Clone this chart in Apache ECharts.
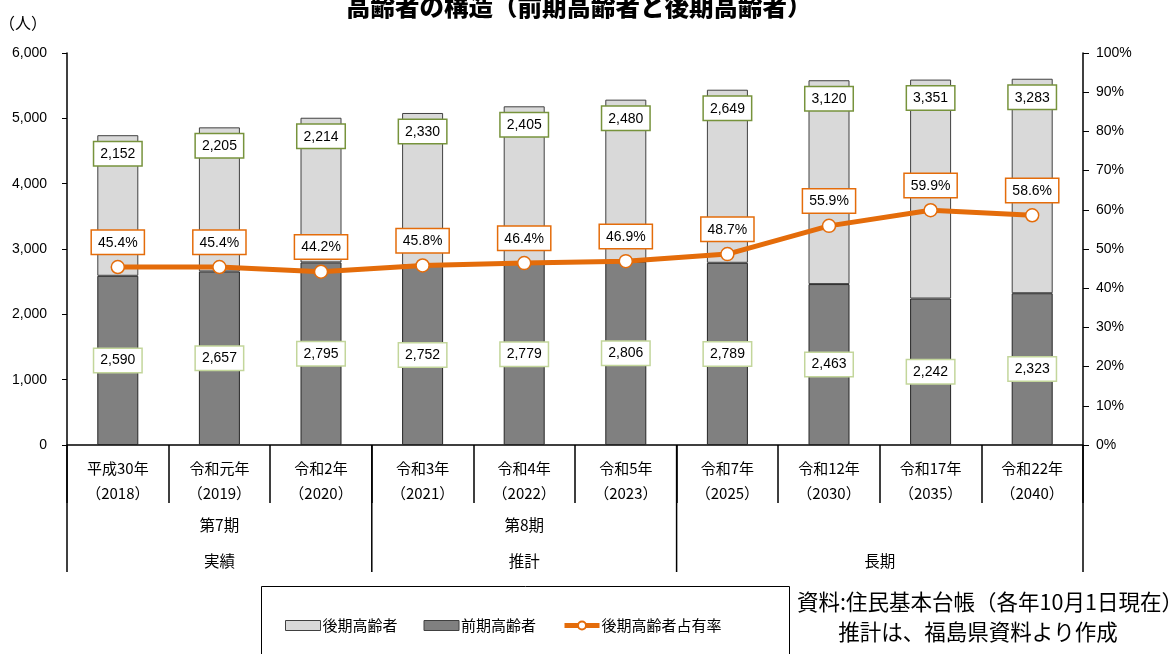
<!DOCTYPE html>
<html>
<head>
<meta charset="utf-8">
<script src="https://cdn.jsdelivr.net/npm/echarts@6/dist/echarts.min.js"></script>
<style>
  html, body { margin: 0; padding: 0; background: #fff; }
  #chart { width: 1176px; height: 654px; }
</style>
</head>
<body>
<div id="chart"></div>
<script>
// Fiscal years (Japanese era + western year)
const categories = [
  '平成30年\n（2018）', '令和元年\n（2019）', '令和2年\n（2020）',
  '令和3年\n（2021）', '令和4年\n（2022）', '令和5年\n（2023）',
  '令和7年\n（2025）', '令和12年\n（2030）', '令和17年\n（2035）', '令和22年\n（2040）'
];
// Late-stage elderly (75+), persons
const lateElderly = [2152, 2205, 2214, 2330, 2405, 2480, 2649, 3120, 3351, 3283];
// Early-stage elderly (65-74), persons
const earlyElderly = [2590, 2657, 2795, 2752, 2779, 2806, 2789, 2463, 2242, 2323];
// Share of late-stage elderly, %
const lateShare = [45.4, 45.4, 44.2, 45.8, 46.4, 46.9, 48.7, 55.9, 59.9, 58.6];

// Grouping rows under the category axis: [label, first index, last index]
const planPeriods = [['第7期', 0, 2], ['第8期', 3, 5]];
const dataKinds = [['実績', 0, 2], ['推計', 3, 5], ['長期', 6, 9]];

const leftTicks = [0, 1000, 2000, 3000, 4000, 5000, 6000];

const NUM_FONT = '"Liberation Sans", Arial, sans-serif';
const JP_FONT = '"Noto Sans CJK JP", "Noto Sans", sans-serif';

const fmt = v => v.toLocaleString('en-US');

const chart = echarts.init(document.getElementById('chart'));

const option = {
  animation: false,
  backgroundColor: '#ffffff',
  title: {
    text: '高齢者の構造（前期高齢者と後期高齢者）',
    left: 341,
    top: -11,
    textStyle: { fontFamily: JP_FONT, fontSize: 24.5, fontWeight: 900, color: '#000' }
  },
  grid: { left: 67, right: 93, top: 53, bottom: 209, containLabel: false, outerBoundsMode: 'none' },
  legend: {
    left: 280,
    top: 613,
    itemWidth: 35,
    itemHeight: 10,
    itemGap: 26,
    textStyle: { fontFamily: JP_FONT, fontSize: 15, color: '#000', padding: [0, 0, 0, -3] },
    data: [
      { name: '後期高齢者', icon: 'rect', itemStyle: { color: '#d9d9d9', borderColor: '#404040', borderWidth: 1 } },
      { name: '前期高齢者', icon: 'rect', itemStyle: { color: '#808080', borderColor: '#404040', borderWidth: 1 } },
      { name: '後期高齢者占有率', lineStyle: { width: 5 } }
    ]
  },
  xAxis: {
    type: 'category',
    data: categories,
    boundaryGap: true,
    axisLine: { lineStyle: { color: '#000', width: 1.5 } },
    axisTick: { show: true, length: 58, interval: 0, lineStyle: { color: '#000', width: 1.5 } },
    axisLabel: {
      interval: 0,
      margin: 11,
      fontFamily: JP_FONT,
      fontSize: 15,
      lineHeight: 25,
      color: '#000'
    }
  },
  yAxis: [
    {
      type: 'value',
      min: leftTicks[0],
      max: leftTicks[leftTicks.length - 1],
      interval: 1000,
      name: '（人）',
      nameLocation: 'end',
      nameGap: 22,
      nameTextStyle: { fontFamily: JP_FONT, fontSize: 16, color: '#000', align: 'right', padding: [0, 20, 0, 0] },
      axisLine: { show: true, lineStyle: { color: '#000', width: 1.5 } },
      axisTick: { show: true, length: 5, lineStyle: { color: '#000' } },
      splitLine: { show: false },
      axisLabel: {
        margin: 20,
        fontFamily: NUM_FONT,
        fontSize: 14,
        color: '#000',
        formatter: v => fmt(v)
      }
    },
    {
      type: 'value',
      min: 0,
      max: 100,
      interval: 10,
      position: 'right',
      axisLine: { show: true, lineStyle: { color: '#000', width: 1.5 } },
      axisTick: { show: true, length: 6, lineStyle: { color: '#000' } },
      splitLine: { show: false },
      axisLabel: {
        margin: 13,
        fontFamily: NUM_FONT,
        fontSize: 14,
        color: '#000',
        formatter: v => v + '%'
      }
    }
  ],
  series: [
    {
      name: '前期高齢者',
      type: 'bar',
      stack: 'elderly',
      barWidth: 41,
      data: earlyElderly,
      itemStyle: { color: '#808080', borderColor: '#262626', borderWidth: 1 },
      label: {
        show: true,
        position: 'inside',
        formatter: p => fmt(p.value),
        fontFamily: NUM_FONT,
        fontSize: 14,
        color: '#000',
        backgroundColor: '#ffffff',
        borderColor: '#c3d69b',
        borderWidth: 1.5,
        padding: [5, 6, 4, 6]
      }
    },
    {
      name: '後期高齢者',
      type: 'bar',
      stack: 'elderly',
      barWidth: 41,
      data: lateElderly,
      itemStyle: { color: '#d9d9d9', borderColor: '#404040', borderWidth: 1 },
      label: {
        show: true,
        position: 'insideTop',
        distance: 7,
        formatter: p => fmt(p.value),
        fontFamily: NUM_FONT,
        fontSize: 14,
        color: '#000',
        backgroundColor: '#ffffff',
        borderColor: '#77933c',
        borderWidth: 1.5,
        padding: [5, 6, 4, 6]
      }
    },
    {
      name: '後期高齢者占有率',
      type: 'line',
      yAxisIndex: 1,
      data: lateShare,
      symbol: 'circle',
      symbolSize: 13,
      lineStyle: { color: '#e46c0a', width: 5 },
      itemStyle: { color: '#ffffff', borderColor: '#e46c0a', borderWidth: 1.5 },
      z: 5,
      label: {
        show: true,
        position: 'top',
        distance: 6,
        formatter: p => p.value.toFixed(1) + '%',
        fontFamily: NUM_FONT,
        fontSize: 14,
        color: '#000',
        backgroundColor: '#ffffff',
        borderColor: '#e46c0a',
        borderWidth: 1.5,
        padding: [5, 6, 4, 6]
      }
    }
  ]
};

chart.setOption(option);

// Group separators and grouping labels below the category axis
function drawGroups() {
  const c0 = chart.convertToPixel({ xAxisIndex: 0 }, 0);
  const c1 = chart.convertToPixel({ xAxisIndex: 0 }, 1);
  const band = c1 - c0;
  const edge = i => c0 + (i - 0.5) * band;
  const axisY = chart.convertToPixel({ yAxisIndex: 0 }, 0);
  const bottomY = axisY + 127;
  const elements = [];

  const boundaries = new Set([0, categories.length]);
  dataKinds.forEach(g => { boundaries.add(g[1]); boundaries.add(g[2] + 1); });
  boundaries.forEach(b => {
    elements.push({
      type: 'line',
      shape: { x1: edge(b), y1: axisY, x2: edge(b), y2: bottomY },
      style: { stroke: '#000', lineWidth: 1.5 },
      silent: true
    });
  });

  const textStyle = { fontFamily: JP_FONT, fontSize: 15.5, fill: '#000', align: 'center', verticalAlign: 'middle' };
  planPeriods.forEach(g => {
    elements.push({
      type: 'text',
      x: (edge(g[1]) + edge(g[2] + 1)) / 2,
      y: axisY + 80,
      style: Object.assign({ text: g[0] }, textStyle),
      silent: true
    });
  });
  dataKinds.forEach(g => {
    elements.push({
      type: 'text',
      x: (edge(g[1]) + edge(g[2] + 1)) / 2,
      y: axisY + 116,
      style: Object.assign({ text: g[0] }, textStyle),
      silent: true
    });
  });

  // Legend frame
  elements.push({
    type: 'rect',
    shape: { x: 261.5, y: 586.5, width: 528, height: 80 },
    style: { fill: null, stroke: '#000', lineWidth: 1 },
    z: -1,
    silent: true
  });

  // Source note
  elements.push({
    type: 'text',
    x: 990,
    y: 602,
    style: { text: '資料:住民基本台帳（各年10月1日現在）', fontFamily: JP_FONT, fontSize: 21.5, fill: '#000', align: 'center', verticalAlign: 'middle' },
    silent: true
  });
  elements.push({
    type: 'text',
    x: 978,
    y: 632,
    style: { text: '推計は、福島県資料より作成', fontFamily: JP_FONT, fontSize: 21.5, fill: '#000', align: 'center', verticalAlign: 'middle' },
    silent: true
  });

  chart.setOption({ graphic: { elements: elements } });
}
drawGroups();
</script>
</body>
</html>
